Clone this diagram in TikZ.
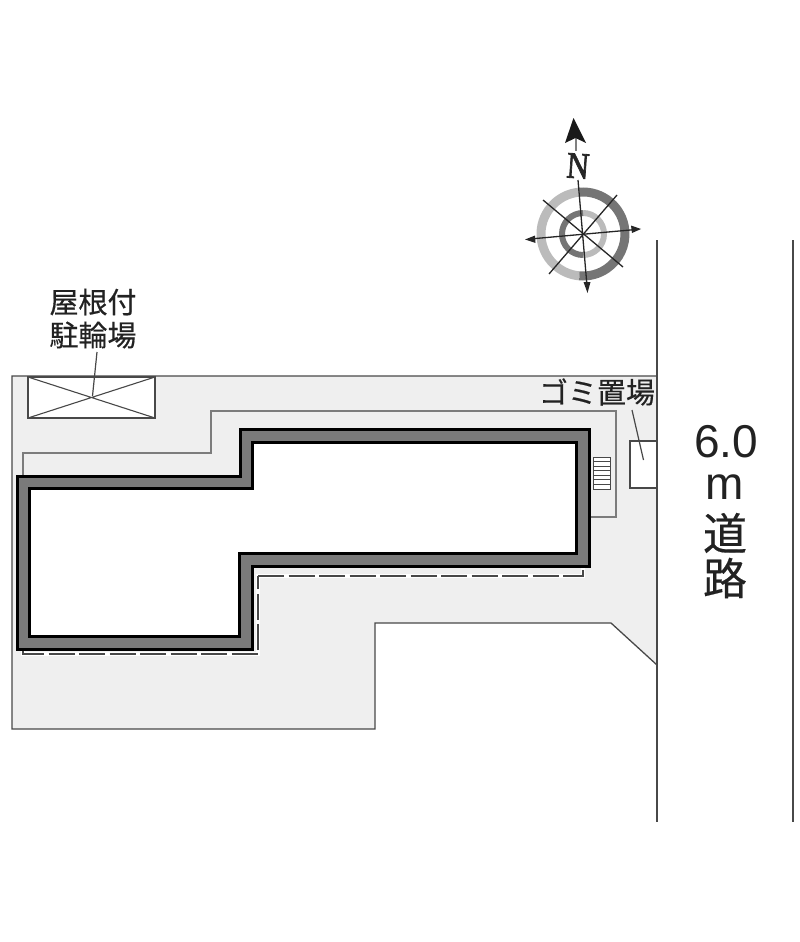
\documentclass[tikz,border=0pt]{standalone}
\usepackage{fontspec}
\setmainfont{Liberation Sans}
\newfontfamily\cjk[FakeBold=0.4]{Noto Sans CJK JP}
\newfontfamily\serifb[FakeBold=2.2]{Liberation Serif}
\definecolor{siteg}{HTML}{EFEFEF}
\definecolor{lineg}{HTML}{484848}
\definecolor{pathg}{HTML}{7C7C7C}
\definecolor{wallg}{HTML}{7A7A7A}
\definecolor{ringl}{HTML}{BBBBBB}
\definecolor{ringd}{HTML}{757575}
\definecolor{txt}{HTML}{222222}
\tikzset{
  x=1pt,y=-1pt,
  site/.style={fill=siteg,draw=lineg,line width=1.3pt,line join=miter},
  wallbase/.style={fill=white,draw=none},
  wall/.style={fill=wallg,even odd rule,draw=black,line width=3pt,line join=miter},
  walkway/.style={draw=pathg,line width=1.7pt},
  boxline/.style={draw=lineg,line width=1.4pt},
  road/.style={draw=lineg,line width=1.5pt},
  leader/.style={draw=lineg,line width=1.2pt},
  dashline/.style={draw=lineg,line width=1.4pt,dash pattern=on 26pt off 4.5pt},
  halo/.style={draw=white,line width=3.5pt},
  label/.style={font=\cjk\fontsize{29}{32}\selectfont,text=txt,inner sep=0pt},
  roadlabel/.style={font=\cjk\fontsize{44}{46}\selectfont,text=txt,inner sep=0pt},
  roadnum/.style={font=\fontsize{46}{50}\selectfont,text=txt,inner sep=0pt},
  spoke/.style={draw=black!85,line width=1.3pt},
  tip/.style={fill=black!85,draw=none},
}
\begin{document}
\begin{tikzpicture}
\useasboundingbox (0,0) rectangle (800,942);
% site
\path[site] (12,376) -- (657,376) -- (657,665) -- (611,623) -- (375,623) -- (375,729) -- (12,729) -- cycle;
% walkway
\path[walkway] (23,476) -- (23,453) -- (211,453) -- (211,411) -- (616,411) -- (616,517) -- (589,517);
% dashed path
\path[halo] (23,649) -- (23,654) -- (258,654) -- (258,576) -- (583,576) -- (583,568);
\path[dashline] (23,649) -- (23,654) -- (258,654) -- (258,576);
\path[dashline] (258,576) -- (583,576) -- (583,568);
% building
\path[wallbase] (29,488) -- (252,488) -- (252,442) -- (576,442) -- (576,553) -- (239,553) -- (239,636) -- (29,636) -- cycle;
\path[wall]
  (17,476) -- (240,476) -- (240,429) -- (589,429) -- (589,566) -- (252,566) -- (252,649) -- (17,649) -- cycle
  (29,488) -- (252,488) -- (252,442) -- (576,442) -- (576,553) -- (239,553) -- (239,636) -- (29,636) -- cycle;
% bike shelter
\path[boxline,fill=white] (28,377) rectangle (155,418);
\path[boxline,line width=1.1pt] (28,377) -- (155,418) (28,418) -- (155,377);
\node[label] (bike1) at (93,302) {屋根付};
\node[label] (bike2) at (93,335) {駐輪場};
\coordinate (bikeend) at (92.5,396);
\path[leader] (97,352) -- (bikeend);
% garbage
\path[boxline,fill=white] (630,441) rectangle (657,488);
\node[label] (trash) at (597,392) {ゴミ置場};
\coordinate (trashstart) at (632,410);
\coordinate (trashend) at (643.5,460);
\path[leader] (trashstart) -- (trashend);
% stairs
\path[draw=lineg,line width=1pt,fill=white] (593,457) rectangle (610,489);
\foreach \yy in {461.5,466,470.5,475,479.5,484}
  \path[draw=lineg,line width=1pt] (593,\yy) -- (610,\yy);
% road
\path[road] (657,240) -- (657,822);
\path[road] (793,240) -- (793,822);
\node[roadnum] (w1) at (726,442) {6.0};
\node[roadnum] (w2) at (725,487) {m};
\node[roadlabel] (w3) at (725,533) {道};
\node[roadlabel] (w4) at (725,578) {路};
% compass
\coordinate (c) at (583,234);
\path[draw=ringl,line width=9pt] (c) ++(-95:42) arc[start angle=-95,end angle=-265,radius=42];
\path[draw=ringd,line width=9pt] (c) ++(-95:42) arc[start angle=-95,end angle=95,radius=42];
\path[draw=ringl,line width=6pt] (c) ++(-90:21) arc[start angle=-90,end angle=90,radius=21];
\path[draw=ringd,line width=6pt] (c) ++(90:21) arc[start angle=90,end angle=270,radius=21];
\path[spoke] (578,180) -- (587,286);
\path[spoke] (530,239) -- (636,229.5);
\path[spoke] (543,200) -- (623,267);
\path[spoke] (617,195) -- (549,274);
\path[tip] (587.5,293) -- (583.5,282) -- (590.5,282) -- cycle;
\path[tip] (525,239.5) -- (535,235.5) -- (535.5,243) -- cycle;
\path[tip] (641,229) -- (631,225.5) -- (632,233) -- cycle;
\path[draw=gray,line width=1.6pt] (576,135) -- (576,151);
\path[fill=black!90] (573.5,118) -- (586,143) -- (575.5,138) -- (565,143) -- cycle;
\node[inner sep=0pt,rotate=-4,yscale=1.2,font=\serifb\fontsize{31}{31}\selectfont,text=black!85] (north) at (578,166) {N};
\end{tikzpicture}
\end{document}
